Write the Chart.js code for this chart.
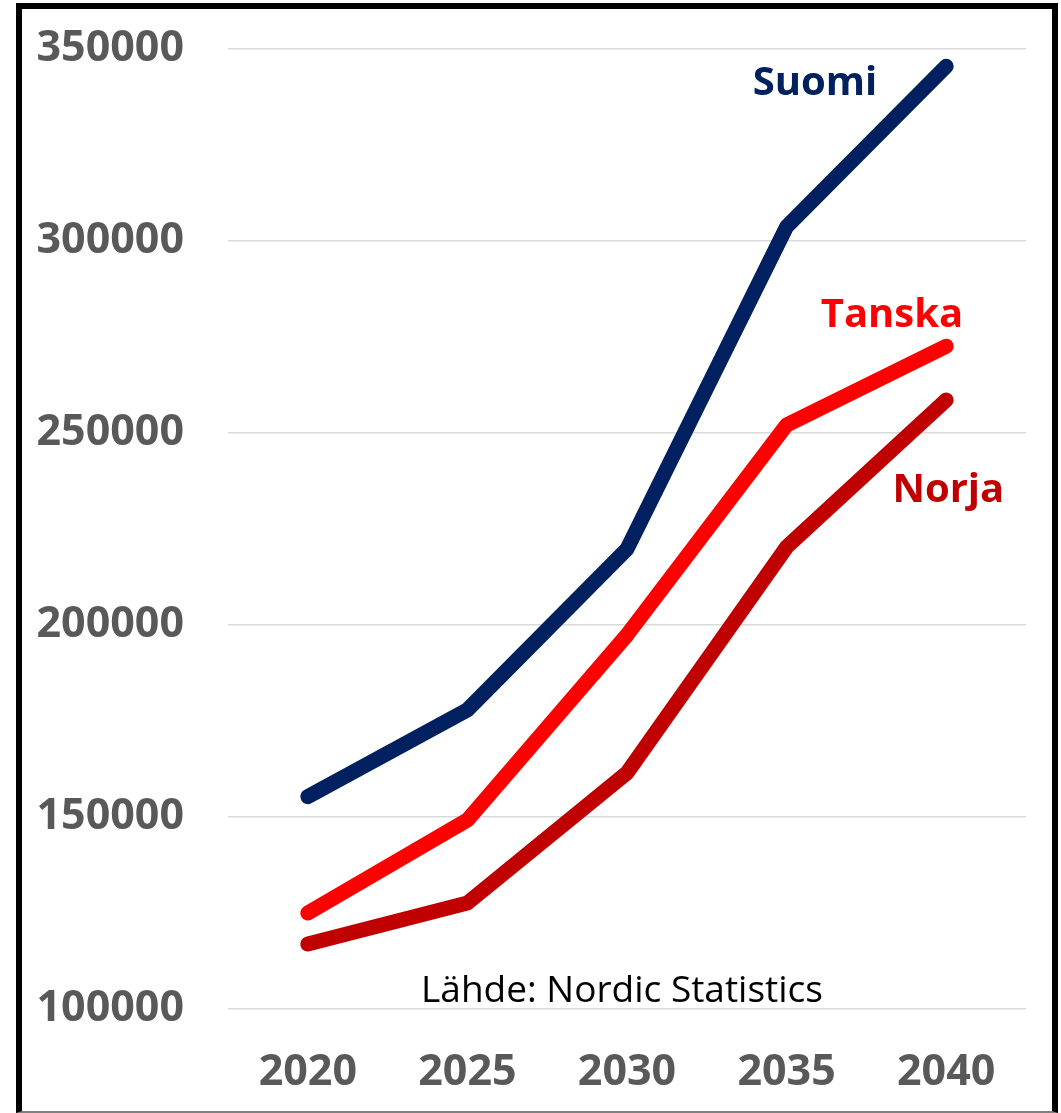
<!DOCTYPE html>
<html lang="fi">
<head>
<meta charset="utf-8">
<title>Nordic Statistics</title>
<script src="https://cdn.jsdelivr.net/npm/chart.js@4.4.1/dist/chart.umd.min.js"></script>
<style>
  html, body { margin: 0; padding: 0; background: #fff; }
  #frame {
    position: absolute; left: 16px; top: 3px; width: 1042px; height: 1110px;
    box-sizing: border-box; border: 6px solid #000; border-bottom: 2px solid #808080;
    pointer-events: none;
  }
  #chart { position: absolute; left: 0; top: 0; }
</style>
</head>
<body>
<div id="frame"></div>
<canvas id="chart" width="1061" height="1113"></canvas>
<script>
// --- data ---
const years = ['2020', '2025', '2030', '2035', '2040'];
const suomi = [155300, 177900, 219800, 303700, 345500];
const tanska = [125000, 149200, 197400, 252100, 272600];
const norja = [116900, 127600, 161500, 220300, 258600];
const yTicks = [100000, 150000, 200000, 250000, 300000, 350000];
const sourceText = 'Lähde: Nordic Statistics';

// label offsets from the 2040 point (right aligned, baseline)
const labelOffsets = [[-69, 29], [17, -19], [58, 102]];

const seriesLabels = {
  id: 'seriesLabels',
  afterDatasetsDraw(chart) {
    const ctx = chart.ctx;
    ctx.save();
    ctx.font = 'bold 40px "Open Sans"';
    ctx.textAlign = 'right';
    ctx.textBaseline = 'alphabetic';
    chart.data.datasets.forEach((ds, i) => {
      const pts = chart.getDatasetMeta(i).data;
      const last = pts[pts.length - 1];
      ctx.fillStyle = ds.borderColor;
      ctx.fillText(ds.label, last.x + labelOffsets[i][0], last.y + labelOffsets[i][1]);
    });
    // lähde
    const a = chart.chartArea;
    ctx.font = '37px "Open Sans"';
    ctx.fillStyle = '#000';
    ctx.textAlign = 'center';
    ctx.fillText(sourceText, (a.left + a.right) / 2 - 5, a.bottom - 7);
    ctx.restore();
  }
};

const tickFont = { family: 'Open Sans', size: 43, weight: 'bold' };

new Chart(document.getElementById('chart'), {
  type: 'line',
  data: {
    labels: years,
    datasets: [
      { label: 'Suomi', data: suomi, borderColor: '#002060' },
      { label: 'Tanska', data: tanska, borderColor: '#FF0000' },
      { label: 'Norja', data: norja, borderColor: '#C00000' }
    ].map(d => Object.assign(d, {
      borderWidth: 15,
      borderCapStyle: 'round',
      borderJoinStyle: 'round',
      pointRadius: 0,
      tension: 0,
      fill: false
    }))
  },
  options: {
    responsive: false,
    animation: false,
    layout: { padding: { top: 49, right: 35, left: 0, bottom: 0 } },
    plugins: { legend: { display: false }, tooltip: { enabled: false } },
    scales: {
      x: {
        offset: true,
        grid: { display: false, drawTicks: false },
        border: { display: false },
        ticks: { font: tickFont, color: '#595959', padding: 38 },
        afterFit(scale) { scale.height = 104; }
      },
      y: {
        min: 100000,
        max: 350000,
        afterBuildTicks(scale) { scale.ticks = yTicks.map(v => ({ value: v })); },
        grid: { color: '#d9d9d9', lineWidth: 1.5, drawTicks: false },
        border: { display: false },
        ticks: { font: tickFont, color: '#595959', padding: 44, callback: v => String(v) },
        afterFit(scale) {
          scale.width = 228;
          scale.paddingTop = 0;
          scale.paddingBottom = 0;
        }
      }
    }
  },
  plugins: [seriesLabels]
});
</script>
</body>
</html>
